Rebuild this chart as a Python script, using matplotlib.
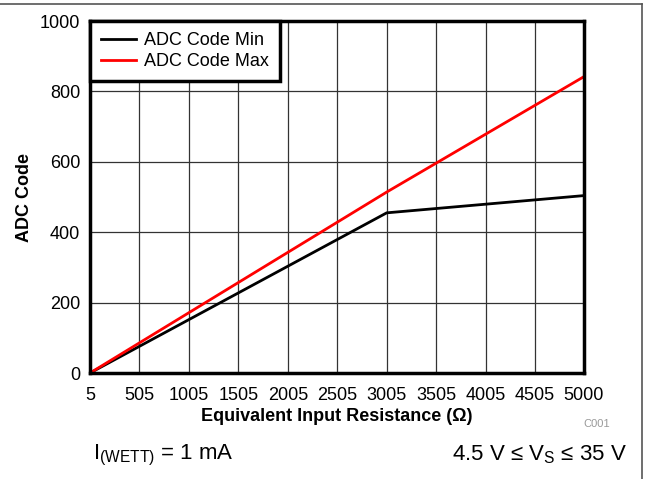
import numpy as np
import matplotlib
matplotlib.use('Agg')
import matplotlib.pyplot as plt
from matplotlib.lines import Line2D

plt.rcParams['font.family'] = ['Liberation Sans', 'DejaVu Sans']
plt.rcParams['mathtext.default'] = 'regular'

# values
resistance = [5, 3005, 5000]
code_min = [0, 455, 504]
code_max = [0, 514, 842]
x_ticks = [5, 505, 1005, 1505, 2005, 2505, 3005, 3505, 4005, 4505, 5000]
y_ticks = [0, 200, 400, 600, 800, 1000]

fig = plt.figure(figsize=(6.46, 4.79), dpi=100)
ax = fig.add_axes([90 / 646, 1 - 373 / 479, (584 - 90) / 646, (373 - 21) / 479])

ax.plot(resistance, code_min, color='black', linewidth=2, label='ADC Code Min')
ax.plot(resistance, code_max, color='#ff0000', linewidth=2, label='ADC Code Max')

ax.set_xlim(5, 5000)
ax.set_ylim(0, 1000)
ax.set_xticks(x_ticks)
ax.set_yticks(y_ticks)
ax.tick_params(length=0, labelsize=13)
ax.tick_params(axis='x', pad=10)
ax.tick_params(axis='y', pad=7)
ax.grid(True, color='#333333', linewidth=0.9)
for s in ax.spines.values():
    s.set_linewidth(2.5)
    s.set_zorder(5)

ax.set_xlabel('Equivalent Input Resistance (\u03a9)', fontsize=13, fontweight='bold', labelpad=3)
ax.set_ylabel('ADC Code', fontsize=13, fontweight='bold', labelpad=5)

leg = ax.legend(loc='upper left', bbox_to_anchor=(0, 1), borderaxespad=0, fontsize=13,
                fancybox=False, framealpha=1, edgecolor='black', handlelength=1.9,
                handletextpad=0.45, borderpad=0.62, labelspacing=0.22)
leg.get_frame().set_linewidth(2.5)
leg.set_zorder(6)

fig.text(597 / 646, 1 - 424 / 479, 'C001', fontsize=8, color='#999999', ha='center', va='center')
fig.text(93 / 646, 1 - 455 / 479, 'I$_{(WETT)}$ = 1 mA', fontsize=16, ha='left', va='center')
fig.text(627 / 646, 1 - 455 / 479, '4.5 V \u2264 V$_S$ \u2264 35 V', fontsize=16, ha='right', va='center')

# figure frame (top and right edges)
fig.add_artist(Line2D([0, 642 / 646], [1 - 4 / 479, 1 - 4 / 479], transform=fig.transFigure,
                      color='#555555', linewidth=1.2))
fig.add_artist(Line2D([642 / 646, 642 / 646], [0, 1 - 4 / 479], transform=fig.transFigure,
                      color='#555555', linewidth=1.2))

fig.savefig('out.png', dpi=100)
